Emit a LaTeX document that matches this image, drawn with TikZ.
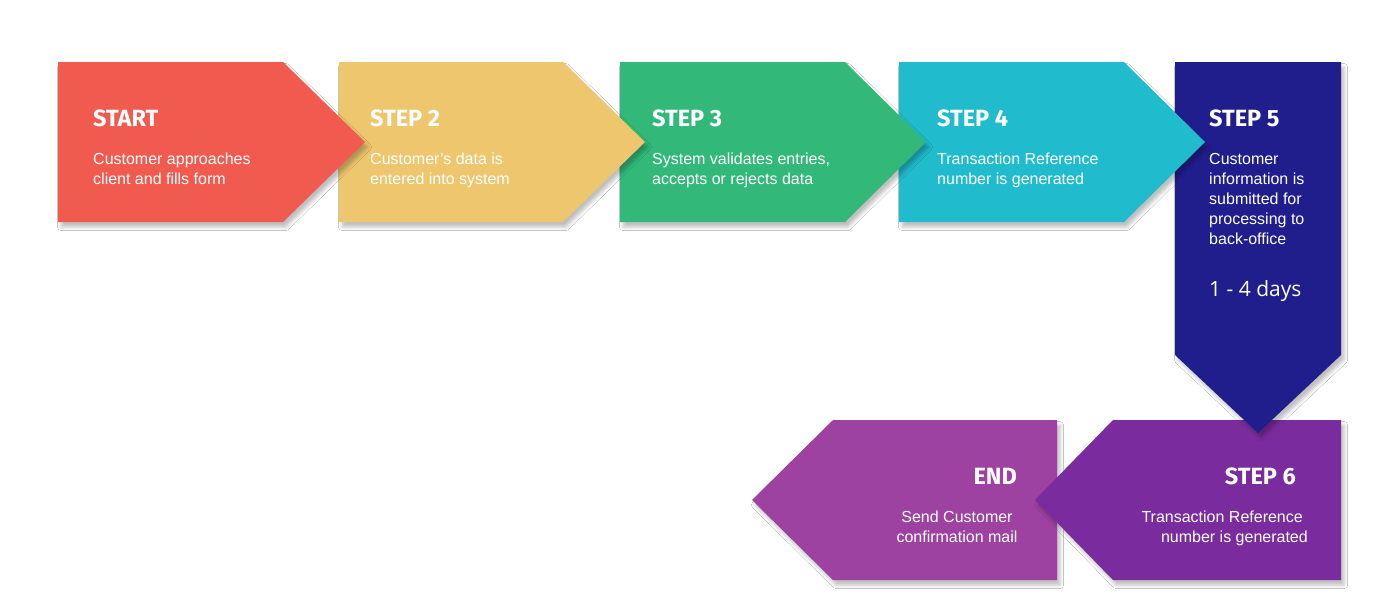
\documentclass[tikz,border=0pt]{standalone}
\usepackage{fontspec}
\setmainfont{Liberation Sans}
\newfontfamily\titlefont{Fira Sans}
\newfontfamily\daysfont{Open Sans}
\usetikzlibrary{shadows.blur}
\definecolor{cRed}{RGB}{240,90,79}
\definecolor{cYellow}{RGB}{238,198,110}
\definecolor{cGreen}{RGB}{50,185,122}
\definecolor{cCyan}{RGB}{32,188,206}
\definecolor{cNavy}{RGB}{31,30,140}
\definecolor{cPurple}{RGB}{122,44,158}
\definecolor{cMagenta}{RGB}{157,66,160}
\tikzset{
  chev/.style={blur shadow={shadow xshift=3pt, shadow yshift=-5pt, shadow blur radius=3.5pt, shadow opacity=25}},
  ttl/.style={text=white, font=\titlefont\bfseries\fontsize{23.5}{24}\selectfont, inner sep=0pt},
  body/.style={text=white, font=\fontsize{16}{20}\selectfont, inner sep=0pt, align=left},
  days/.style={text=white, font=\daysfont\fontsize{21}{24}\selectfont, inner sep=0pt},
}
\begin{document}
\begin{tikzpicture}[x=1pt, y=-1pt]
\useasboundingbox[fill=white] (0,0) rectangle (1400,600);
% shapes, drawn back to front
\fill[cMagenta, chev] (1057,420) -- (1057,580) -- (833,580) -- (752,500) -- (833,420) -- cycle;
\fill[cPurple, chev] (1341,420) -- (1341,580) -- (1113,580) -- (1035,500) -- (1113,420) -- cycle;
\fill[cNavy, chev] (1175,62) -- (1341,62) -- (1341,355) -- (1258,433) -- (1175,355) -- cycle;
\fill[cCyan, chev] (899,62) -- (1124,62) -- (1205,142) -- (1124,222) -- (899,222) -- cycle;
\fill[cGreen, chev] (620,62) -- (845,62) -- (926,142) -- (845,222) -- (620,222) -- cycle;
\fill[cYellow, chev] (339,62) -- (563,62) -- (645,142) -- (563,222) -- (339,222) -- cycle;
\fill[cRed, chev] (58,62) -- (283,62) -- (365,142) -- (283,222) -- (58,222) -- cycle;
% titles
\node[ttl, anchor=base west] (t1) at (93,126) {START};
\node[ttl, anchor=base west] (t2) at (370,126) {STEP 2};
\node[ttl, anchor=base west] (t3) at (652,126) {STEP 3};
\node[ttl, anchor=base west] (t4) at (937,126) {STEP 4};
\node[ttl, anchor=base west] (t5) at (1209,126) {STEP 5};
\node[ttl, anchor=base east] (t6) at (1296,484) {STEP 6};
\node[ttl, anchor=base east] (t7) at (1017,484) {END};
% bodies
\node[body, anchor=north west] (b1) at (93,153) {Customer approaches\\client and fills form};
\node[body, anchor=north west] (b2) at (370,153) {Customer's data is\\entered into system};
\node[body, anchor=north west] (b3) at (652,153) {System validates entries,\\accepts or rejects data};
\node[body, anchor=north west] (b4) at (937,153) {Transaction Reference\\number is generated};
\node[body, anchor=north west] (b5) at (1209,153) {Customer\\information is\\submitted for\\processing to\\back-office};
\node[days, anchor=base west] (d5) at (1209,296) {1 - 4 days};
\node[body, anchor=base east] (b6a) at (1303,522) {Transaction Reference};
\node[body, anchor=base east] (b6b) at (1308,542) {number is generated};
\node[body, align=center, anchor=north] (b7) at (957,511) {Send Customer\\confirmation mail};
\end{tikzpicture}
\end{document}
